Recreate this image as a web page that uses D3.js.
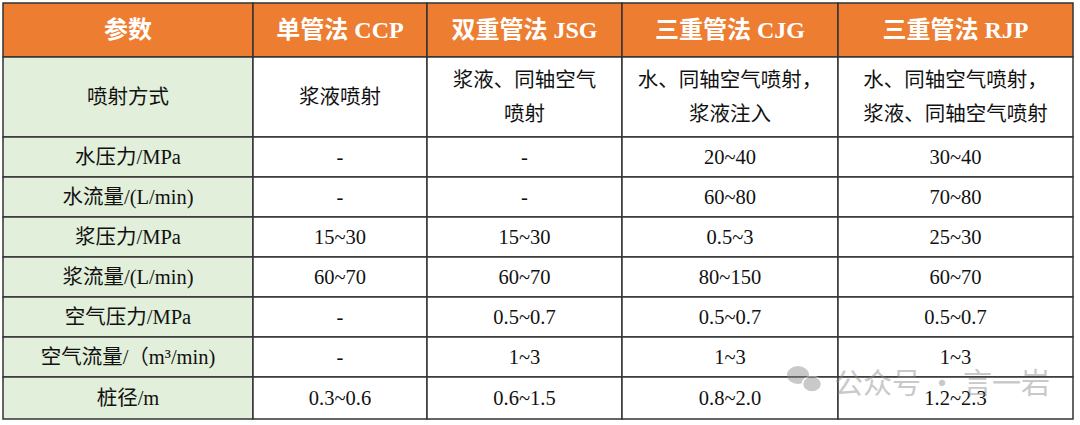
<!DOCTYPE html>
<html><head><meta charset="utf-8">
<script src="https://cdn.jsdelivr.net/npm/d3@7"></script>
<style>body{margin:0;background:#fff}</style></head>
<body><svg id="c" width="1080" height="425"></svg>
<script>
const headers = ["参数","单管法 CCP","双重管法 JSG","三重管法 CJG","三重管法 RJP"];
const params = ["喷射方式","水压力/MPa","水流量/(L/min)","浆压力/MPa","浆流量/(L/min)","空气压力/MPa","空气流量/（m³/min)","桩径/m"];
const ccp = ["浆液喷射","-","-","15~30","60~70","-","-","0.3~0.6"];
const jsg = ["浆液、同轴空气|喷射","-","-","15~30","60~70","0.5~0.7","1~3","0.6~1.5"];
const cjg = ["水、同轴空气喷射，|浆液注入","20~40","60~80","0.5~3","80~150","0.5~0.7","1~3","0.8~2.0"];
const rjp = ["水、同轴空气喷射，|浆液、同轴空气喷射","30~40","70~80","25~30","60~70","0.5~0.7","1~3","1.2~2.3"];
const colEdges = [3,253,427,622,838,1073];
const rowEdges = [3,57,137,177,217,257,297,337,377,419];

const svg = d3.select("#c");
const font = "'Liberation Serif','Noto Sans CJK SC',serif";
const cols = [params, ccp, jsg, cjg, rjp];
const rows = [headers].concat(params.map((p,i)=>cols.map(c=>c[i])));

rows.forEach((r,ri)=>{
  r.forEach((t,ci)=>{
    const x0=colEdges[ci],x1=colEdges[ci+1],y0=rowEdges[ri],y1=rowEdges[ri+1];
    const fill = ri===0 ? "#ED7D31" : (ci===0 ? "#E2EFDA" : "#fff");
    svg.append("rect").attr("x",x0).attr("y",y0).attr("width",x1-x0).attr("height",y1-y0)
      .attr("fill",fill).attr("stroke","#333").attr("stroke-width",1.5);
    const lines = t.split("|");
    const cx=(x0+x1)/2, cy=(y0+y1)/2;
    const lh = 34;
    lines.forEach((ln,li)=>{
      svg.append("text").attr("x",cx).attr("y",cy+(li-(lines.length-1)/2)*lh)
        .attr("text-anchor","middle").attr("dominant-baseline","central")
        .attr("font-family", font)
        .attr("font-weight", ri===0 ? "bold" : "normal")
        .attr("font-size", ri===0 ? 24 : 20.5)
        .attr("fill", ri===0 ? "#fff" : "#111")
        .text(ln);
    });
  });
});
// watermark
const wm = svg.append("g").attr("opacity",0.45);
wm.append("ellipse").attr("cx",798).attr("cy",375).attr("rx",11).attr("ry",9).attr("fill","#888");
wm.append("ellipse").attr("cx",812).attr("cy",384).attr("rx",9.5).attr("ry",8).attr("fill","#888").attr("stroke","#fff").attr("stroke-width",1.5);
wm.append("text").attr("x",834).attr("y",381).attr("dominant-baseline","central")
  .attr("font-family","'Noto Sans CJK SC',sans-serif").attr("font-size",29).attr("fill","#888")
  .text("公众号 · 言一岩");
</script></body></html>
